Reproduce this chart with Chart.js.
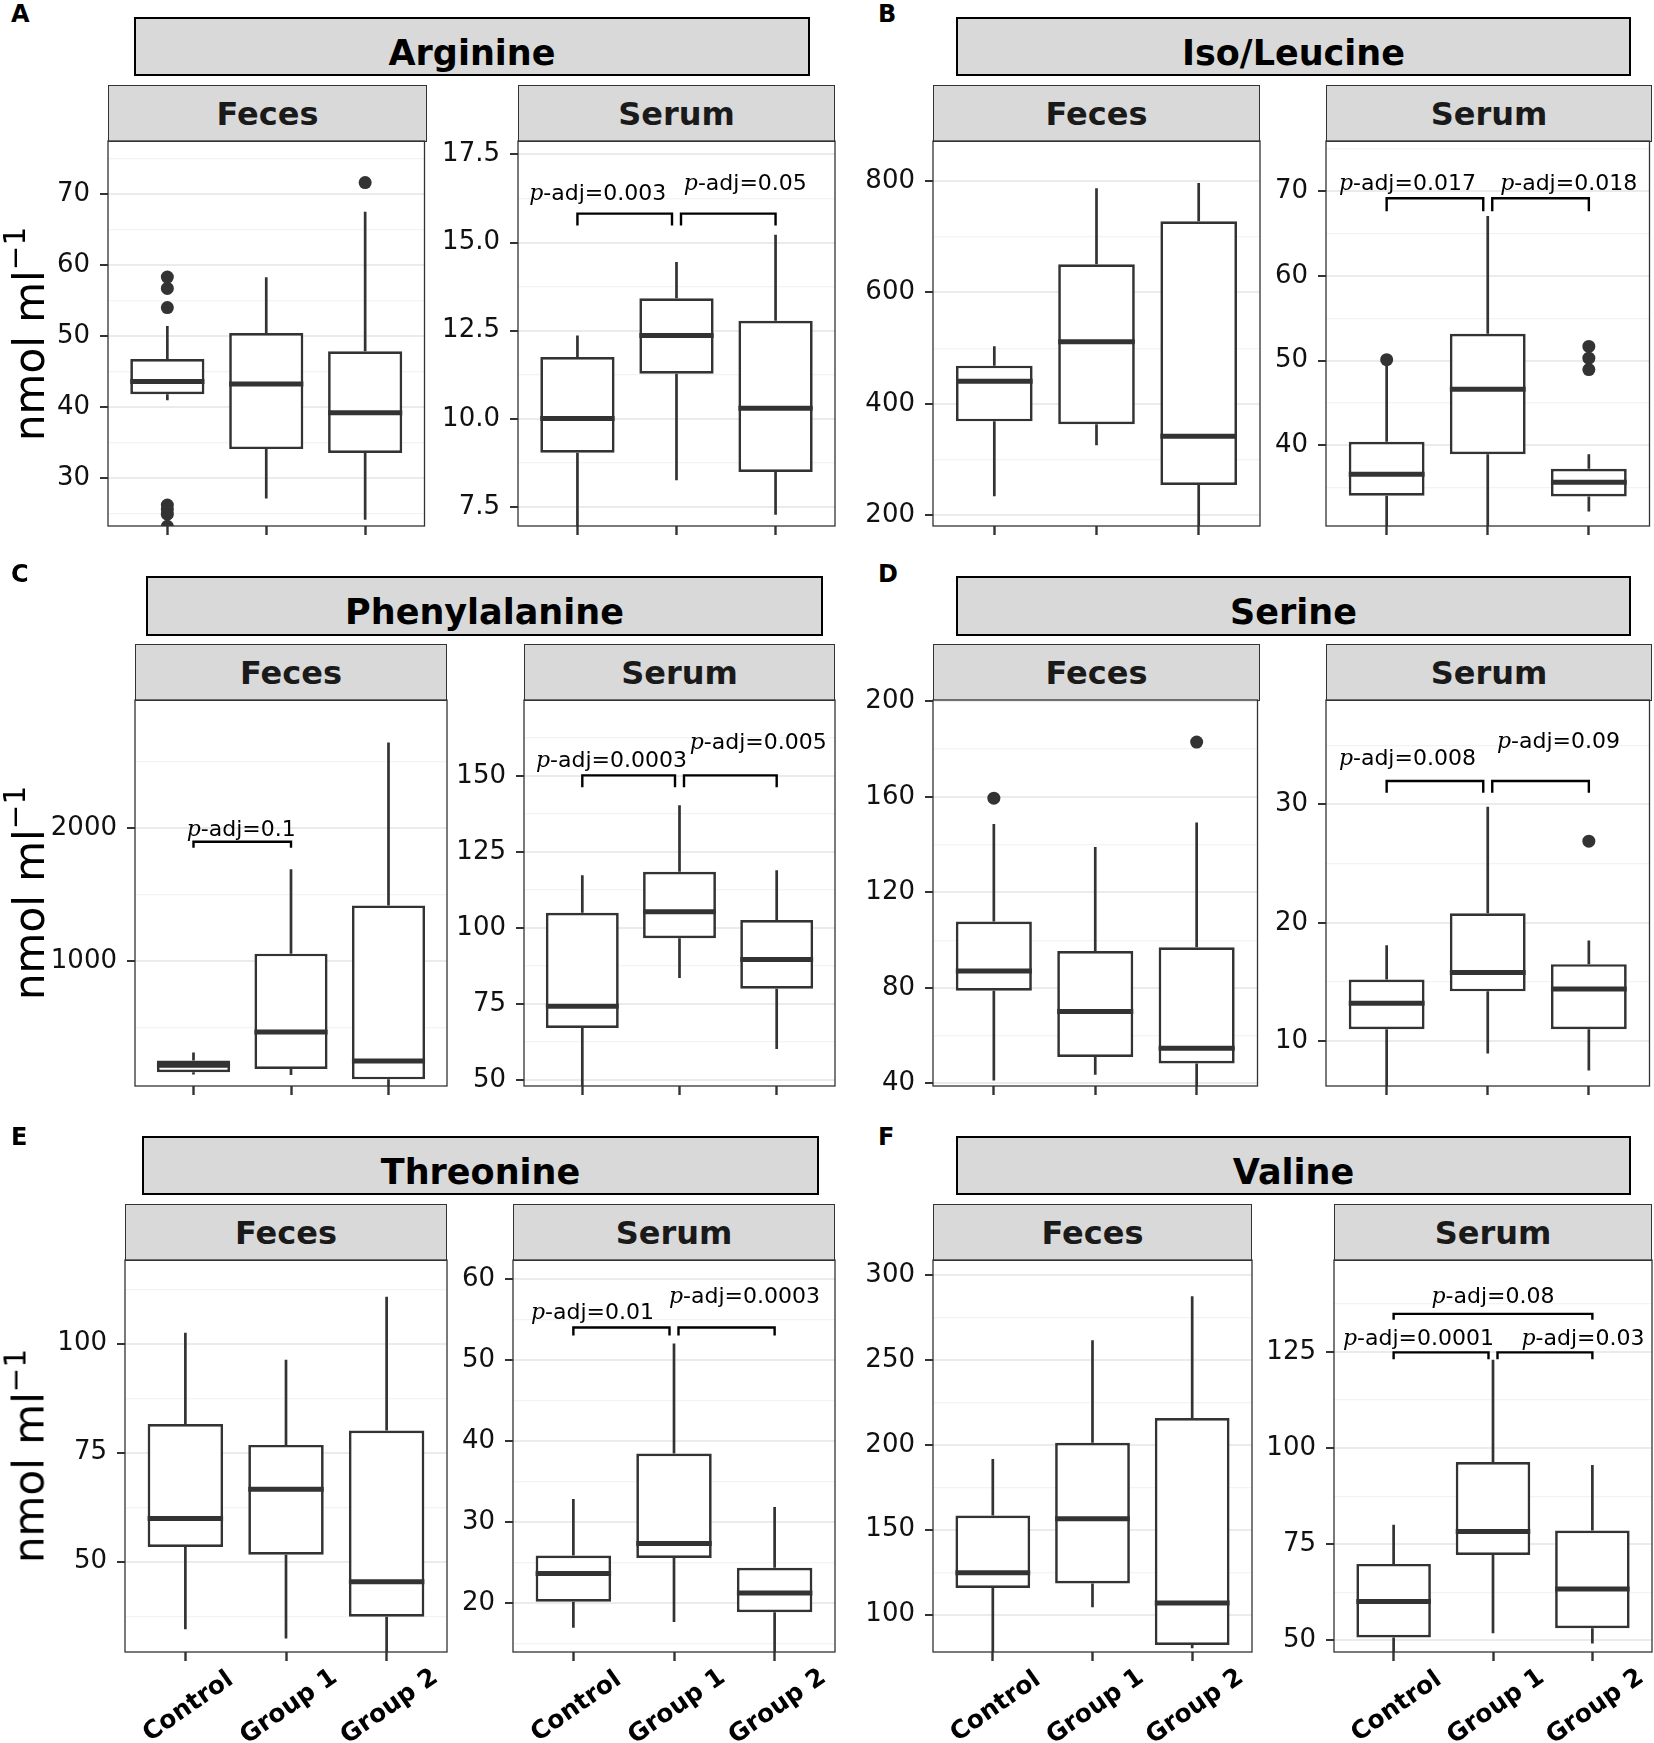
<!DOCTYPE html>
<html>
<head>
<meta charset="utf-8">
<script src="https://cdn.jsdelivr.net/npm/chart.js@4.4.1/dist/chart.umd.min.js"></script>
<style>
  body { margin: 0; background: #fff; }
  #page { position: relative; width: 1654px; height: 1743px; overflow: hidden; background: #fff;
          font-family: "DejaVu Sans", sans-serif; }
  #page canvas { position: absolute; }
  .big { position: absolute; box-sizing: border-box; background: #d9d9d9; border: 2.7px solid #000;
         display: flex; align-items: center; justify-content: center; padding-top: 12px;
         font-weight: bold; font-size: 35px; color: #000; }
  .strip { position: absolute; box-sizing: border-box; background: #d9d9d9; border: 1.3px solid #333;
           display: flex; align-items: center; justify-content: center;
           font-weight: bold; font-size: 32px; color: #1a1a1a; }
  .tag { position: absolute; font-weight: bold; font-size: 24px; line-height: 24px; color: #000; }
  .ytitle { position: absolute; font-size: 42px; white-space: nowrap; color: #000;
            transform: translate(-50%, -50%) rotate(-90deg); }
  .ytitle sup { font-size: 0.7em; vertical-align: 0.62em; line-height: 0; }
</style>
</head>
<body>
<div id="page"></div>
<script>
// groups on the x axis
const groups = ["Control", "Group 1", "Group 2"];

// box stats per group: [lower whisker, q1, median, q3, upper whisker]
// outliers: [group number, value]; sig: [from, to, bracket y, tip y, p value, label x, label y]

// Arginine
const argFecesBox = [[40.96, 41.8, 43.6, 46.75, 51.4], [27.13, 34.07, 43.23, 50.43, 58.28], [24.11, 33.52, 39.2, 47.86, 67.48]];
const argFecesOut = [[1, 58.3], [1, 56.7], [1, 54.0], [1, 26.2], [1, 25.6], [1, 24.9], [1, 23.2], [3, 71.6]];
const argFecesTicks = ["30", "40", "50", "60", "70"];
const argFecesLim = [23.24, 77.46];
const argFecesSig = [];

const argSerumBox = [[6.5, 9.04, 10.01, 11.75, 12.36], [8.26, 11.28, 12.36, 13.42, 14.45], [7.28, 8.49, 10.3, 12.78, 15.22]];
const argSerumOut = [];
const argSerumTicks = ["7.5", "10.0", "12.5", "15.0", "17.5"];
const argSerumLim = [6.96, 17.88];
const argSerumSig = [[1, 2, 15.82, 15.48, "0.003", 1.205, 16.36], [2, 3, 15.82, 15.48, "0.05", 2.695, 16.66]];

// Iso/Leucine
const leuFecesBox = [[234, 368.6, 440.4, 468.6, 503.2], [325.6, 363.5, 511.5, 650.6, 787.2], [150, 254.5, 341.7, 727.6, 796.2]];
const leuFecesOut = [];
const leuFecesTicks = ["200", "400", "600", "800"];
const leuFecesLim = [180.8, 871.8];
const leuFecesSig = [];

const leuSerumBox = [[29, 34.05, 36.58, 40.42, 49.7], [29, 38.94, 46.61, 53.15, 67.05], [32.2, 33.97, 35.65, 37.22, 38.94]];
const leuSerumOut = [[1, 50.1], [3, 51.67], [3, 50.28], [3, 48.93]];
const leuSerumTicks = ["40", "50", "60", "70"];
const leuSerumLim = [30.48, 75.9];
const leuSerumSig = [[1, 2, 69.15, 67.6, "0.017", 1.205, 70.84], [2, 3, 69.15, 67.6, "0.018", 2.8, 70.84]];

// Phenylalanine
const pheFecesBox = [[150, 168, 220, 256, 315], [147, 191, 470, 1057, 1690], [40, 114, 251, 1419, 2641]];
const pheFecesOut = [];
const pheFecesTicks = ["1000", "2000"];
const pheFecesLim = [64, 2960];
const pheFecesSig = [[1, 2, 1897, 1851, "0.1", 1.49, 1982]];

const pheSerumBox = [[45, 67.1, 74.2, 105, 117.3], [83.5, 96.6, 105.3, 118.5, 140.4], [60.2, 80, 89.6, 102.6, 119]];
const pheSerumOut = [];
const pheSerumTicks = ["50", "75", "100", "125", "150"];
const pheSerumLim = [48, 175];
const pheSerumSig = [[1, 2, 150.2, 146.3, "0.0003", 1.3, 154.8], [2, 3, 150.2, 146.3, "0.005", 2.81, 160.7]];

// Serine
const serFecesBox = [[41.2, 78.8, 87.1, 107.8, 148.6], [43.7, 51.1, 70.1, 95.4, 139], [35, 48.4, 54.7, 97, 149.2]];
const serFecesOut = [[1, 159.4], [3, 182.9]];
const serFecesTicks = ["40", "80", "120", "160", "200"];
const serFecesLim = [38.95, 200.5];
const serFecesSig = [];

const serSerumBox = [[5, 11.0, 13.2, 15.2, 18.1], [8.95, 14.2, 15.8, 20.8, 29.8], [7.5, 11.0, 14.4, 16.5, 18.5]];
const serSerumOut = [[3, 26.9]];
const serSerumTicks = ["10", "20", "30"];
const serSerumLim = [6.2, 38.83];
const serSerumSig = [[1, 2, 31.98, 31.0, "0.008", 1.205, 33.85], [2, 3, 31.98, 31.0, "0.09", 2.7, 35.24]];

// Threonine
const thrFecesBox = [[34.5, 53.4, 59.9, 81.6, 102.5], [32.4, 51.6, 66.6, 76.8, 96.3], [25, 37.4, 45.4, 80.1, 110.8]];
const thrFecesOut = [];
const thrFecesTicks = ["50", "75", "100"];
const thrFecesLim = [29.3, 119.2];
const thrFecesSig = [];

const thrSerumBox = [[17.0, 20.2, 23.7, 25.9, 32.9], [17.7, 25.6, 27.4, 38.5, 52.1], [12, 18.9, 21.3, 24.4, 31.9]];
const thrSerumOut = [];
const thrSerumTicks = ["20", "30", "40", "50", "60"];
const thrSerumLim = [14.0, 62.4];
const thrSerumSig = [[1, 2, 54.06, 53.08, "0.01", 1.19, 55.82], [2, 3, 54.06, 53.08, "0.0003", 2.7, 57.79]];

// Valine
const valFecesBox = [[70, 115.7, 124.6, 158.4, 191.7], [104.4, 118.3, 156.5, 201.2, 261.5], [80.2, 82.1, 106.8, 215.7, 287.4]];
const valFecesOut = [];
const valFecesTicks = ["100", "150", "200", "250", "300"];
const valFecesLim = [78, 308.8];
const valFecesSig = [];

const valSerumBox = [[44, 50.8, 60.1, 69.9, 80.1], [51.9, 72.2, 78.3, 96.4, 123], [49.2, 53.2, 63.4, 78.6, 95.6]];
const valSerumOut = [];
const valSerumTicks = ["50", "75", "100", "125"];
const valSerumLim = [47, 148.9];
const valSerumSig = [[1, 2, 124.9, 123.1, "0.0001", 1.25, 128.2], [2, 3, 124.9, 123.1, "0.03", 2.906, 128.2], [1, 3, 134.9, 133.4, "0.08", 2.0, 139.1]];

// panel titles, facets and placement on the page
const rows = [
  { T: 141, B: 526, bigY: [17, 76], tagBase: 23 },
  { T: 700, B: 1086, bigY: [576, 636], tagBase: 583 },
  { T: 1260, B: 1652, bigY: [1136, 1195], tagBase: 1146 }
];
const figures = [
  { tag: "A", title: "Arginine", row: 0, big: [134, 810], tagX: 11,
    feces: { box: argFecesBox, out: argFecesOut, ticks: argFecesTicks, lim: argFecesLim, sig: argFecesSig, L: 108, R: 427 },
    serum: { box: argSerumBox, out: argSerumOut, ticks: argSerumTicks, lim: argSerumLim, sig: argSerumSig, L: 518, R: 835 } },
  { tag: "B", title: "Iso/Leucine", row: 0, big: [956, 1631], tagX: 878,
    feces: { box: leuFecesBox, out: leuFecesOut, ticks: leuFecesTicks, lim: leuFecesLim, sig: leuFecesSig, L: 933, R: 1260 },
    serum: { box: leuSerumBox, out: leuSerumOut, ticks: leuSerumTicks, lim: leuSerumLim, sig: leuSerumSig, L: 1326, R: 1652 } },
  { tag: "C", title: "Phenylalanine", row: 1, big: [146, 823], tagX: 11,
    feces: { box: pheFecesBox, out: pheFecesOut, ticks: pheFecesTicks, lim: pheFecesLim, sig: pheFecesSig, L: 135, R: 447 },
    serum: { box: pheSerumBox, out: pheSerumOut, ticks: pheSerumTicks, lim: pheSerumLim, sig: pheSerumSig, L: 524, R: 835 } },
  { tag: "D", title: "Serine", row: 1, big: [956, 1631], tagX: 878,
    feces: { box: serFecesBox, out: serFecesOut, ticks: serFecesTicks, lim: serFecesLim, sig: serFecesSig, L: 933, R: 1260 },
    serum: { box: serSerumBox, out: serSerumOut, ticks: serSerumTicks, lim: serSerumLim, sig: serSerumSig, L: 1326, R: 1652 } },
  { tag: "E", title: "Threonine", row: 2, big: [142, 819], tagX: 11,
    feces: { box: thrFecesBox, out: thrFecesOut, ticks: thrFecesTicks, lim: thrFecesLim, sig: thrFecesSig, L: 125, R: 447 },
    serum: { box: thrSerumBox, out: thrSerumOut, ticks: thrSerumTicks, lim: thrSerumLim, sig: thrSerumSig, L: 513, R: 835 } },
  { tag: "F", title: "Valine", row: 2, big: [956, 1631], tagX: 878,
    feces: { box: valFecesBox, out: valFecesOut, ticks: valFecesTicks, lim: valFecesLim, sig: valFecesSig, L: 933, R: 1252 },
    serum: { box: valSerumBox, out: valSerumOut, ticks: valSerumTicks, lim: valSerumLim, sig: valSerumSig, L: 1334, R: 1652 } }
];

const page = document.getElementById("page");
const FONT = '"DejaVu Sans", sans-serif';
const LINE = "#333333";
Chart.defaults.font.family = FONT;

function addDiv(cls, html, css) {
  const d = document.createElement("div");
  d.className = cls;
  d.innerHTML = html;
  Object.assign(d.style, css);
  page.appendChild(d);
  return d;
}

// draws whiskers, medians, significance brackets, panel border and x labels
function boxPlugin(p) {
  return {
    id: "boxplot",
    beforeDatasetsDraw(chart) {
      const { ctx, chartArea: a, scales: { x, y } } = chart;
      ctx.save();
      ctx.beginPath();
      ctx.rect(a.left, a.top, a.width, a.height);
      ctx.clip();
      ctx.strokeStyle = LINE;
      ctx.lineWidth = 2.7;
      p.box.forEach((s, i) => {
        const px = x.getPixelForValue(i + 1);
        ctx.beginPath();
        ctx.moveTo(px, y.getPixelForValue(s[0]));
        ctx.lineTo(px, y.getPixelForValue(s[1]));
        ctx.moveTo(px, y.getPixelForValue(s[3]));
        ctx.lineTo(px, y.getPixelForValue(s[4]));
        ctx.stroke();
      });
      ctx.restore();
    },
    afterDatasetsDraw(chart) {
      const { ctx, chartArea: a, scales: { x, y } } = chart;
      const bars = chart.getDatasetMeta(0).data;
      ctx.save();
      // medians
      ctx.strokeStyle = LINE;
      ctx.lineWidth = 5;
      p.box.forEach((s, i) => {
        const el = bars[i];
        const py = y.getPixelForValue(s[2]);
        ctx.beginPath();
        ctx.moveTo(el.x - el.width / 2, py);
        ctx.lineTo(el.x + el.width / 2, py);
        ctx.stroke();
      });
      // significance brackets
      const gap = 4.5;
      const shared = (s, g) => p.sig.some(o => o !== s && o[2] === s[2] && (o[0] === g || o[1] === g));
      p.sig.forEach(s => {
        const x0 = x.getPixelForValue(s[0]) + (shared(s, s[0]) ? gap : 0);
        const x1 = x.getPixelForValue(s[1]) - (shared(s, s[1]) ? gap : 0);
        const yl = y.getPixelForValue(s[2]);
        const yt = y.getPixelForValue(s[3]);
        ctx.strokeStyle = "#000";
        ctx.lineWidth = 2.4;
        ctx.beginPath();
        ctx.moveTo(x0, yt);
        ctx.lineTo(x0, yl);
        ctx.lineTo(x1, yl);
        ctx.lineTo(x1, yt);
        ctx.stroke();
        const rest = "-adj=" + s[4];
        const fp = 'italic 22px "DejaVu Serif", serif';
        const fr = "22px " + FONT;
        ctx.font = fp;
        const wp = ctx.measureText("p").width;
        ctx.font = fr;
        const wr = ctx.measureText(rest).width;
        const cx = x.getPixelForValue(s[5]);
        const cy = y.getPixelForValue(s[6]);
        const start = cx - (wp + wr) / 2;
        ctx.fillStyle = "#000";
        ctx.textBaseline = "middle";
        ctx.textAlign = "left";
        ctx.font = fp;
        ctx.fillText("p", start, cy);
        ctx.font = fr;
        ctx.fillText(rest, start + wp, cy);
      });
      // panel border
      ctx.strokeStyle = LINE;
      ctx.lineWidth = 1.3;
      ctx.strokeRect(a.left, a.top, a.width, a.height);
      ctx.restore();
    },
    afterDraw(chart) {
      if (!p.xlab) return;
      const { ctx, chartArea: a, scales: { x } } = chart;
      ctx.save();
      ctx.font = "bold 25px " + FONT;
      ctx.fillStyle = "#000";
      ctx.textAlign = "center";
      ctx.textBaseline = "middle";
      groups.forEach((g, i) => {
        ctx.save();
        ctx.translate(x.getPixelForValue(i + 1) + 3, a.bottom + 55);
        ctx.rotate(-35 * Math.PI / 180);
        ctx.fillText(g, 0, 0);
        ctx.restore();
      });
      ctx.restore();
    }
  };
}

function buildPanel(p) {
  const padTop = 20, padRight = 4, yW = 96;
  const xH = p.xlab ? 1743 - p.B : 24;
  const cv = document.createElement("canvas");
  cv.width = p.R - p.L + yW + padRight;
  cv.height = p.B - p.T + padTop + xH;
  cv.style.left = (p.L - yW) + "px";
  cv.style.top = (p.T - padTop) + "px";
  page.appendChild(cv);

  const majors = p.ticks.map(Number);
  const step = majors[1] - majors[0];
  let m = majors[0] - step / 2;
  while (m - step >= p.lim[0]) m -= step;
  const minors = [];
  for (; m <= p.lim[1]; m += step) if (m >= p.lim[0]) minors.push(m);
  const all = majors.concat(minors).sort((a, b) => a - b);
  const isMajor = v => majors.some(t => Math.abs(t - v) < 1e-9);
  const labelOf = v => p.ticks[majors.findIndex(t => Math.abs(t - v) < 1e-9)];

  new Chart(cv, {
    type: "bar",
    data: {
      datasets: [
        {
          type: "bar",
          data: p.box.map((s, i) => ({ x: i + 1, y: [s[1], s[3]] })),
          backgroundColor: "#ffffff",
          borderColor: LINE,
          borderWidth: 2.7,
          borderSkipped: false,
          barPercentage: 0.75,
          categoryPercentage: 1
        },
        {
          type: "scatter",
          data: p.out.map(o => ({ x: o[0], y: o[1] })),
          pointRadius: 6.5,
          pointBackgroundColor: LINE,
          pointBorderWidth: 0,
          clip: 0
        }
      ]
    },
    options: {
      responsive: false,
      animation: false,
      devicePixelRatio: 1,
      events: [],
      layout: { padding: { top: padTop, right: padRight, left: 0, bottom: 0 } },
      plugins: { legend: { display: false }, tooltip: { enabled: false } },
      scales: {
        x: {
          type: "linear",
          min: 0.4,
          max: 3.6,
          offset: false,
          afterBuildTicks: s => { s.ticks = groups.map((g, i) => ({ value: i + 1 })); },
          afterFit: s => { s.height = xH; s.paddingLeft = 0; s.paddingRight = 0; },
          ticks: { display: false },
          grid: { drawOnChartArea: false, drawTicks: true, tickLength: 9, tickColor: LINE, tickWidth: 2.4, offset: false },
          border: { display: false }
        },
        y: {
          type: "linear",
          min: p.lim[0],
          max: p.lim[1],
          beginAtZero: false,
          afterBuildTicks: s => { s.ticks = all.map(v => ({ value: v })); },
          afterFit: s => { s.width = yW; s.paddingTop = 0; s.paddingBottom = 0; },
          ticks: {
            autoSkip: false,
            padding: 10,
            color: "#111",
            font: { family: FONT, size: 26 },
            callback: v => (isMajor(v) ? labelOf(v) : "")
          },
          grid: {
            color: c => (isMajor(c.tick.value) ? "#ebebeb" : "#f3f3f3"),
            lineWidth: c => (isMajor(c.tick.value) ? 2 : 1.2),
            tickColor: c => (isMajor(c.tick.value) ? LINE : "rgba(0,0,0,0)"),
            tickLength: 8,
            tickWidth: 2
          },
          border: { display: false }
        }
      }
    },
    plugins: [boxPlugin(p)]
  });
}

figures.forEach(f => {
  const r = rows[f.row];
  const bottomRow = f.row === rows.length - 1;
  addDiv("big", f.title, {
    left: f.big[0] + "px", top: r.bigY[0] + "px",
    width: (f.big[1] - f.big[0]) + "px", height: (r.bigY[1] - r.bigY[0]) + "px"
  });
  addDiv("tag", f.tag, { left: f.tagX + "px", top: (r.tagBase - 21) + "px" });
  [["Feces", f.feces], ["Serum", f.serum]].forEach(([name, p]) => {
    addDiv("strip", name, {
      left: p.L + "px", top: (r.T - 56) + "px",
      width: (p.R - p.L) + "px", height: "57px"
    });
    buildPanel(Object.assign({}, p, { T: r.T, B: r.B, xlab: bottomRow }));
  });
  if (f.tagX < 100) {
    addDiv("ytitle", "nmol ml<sup>\u22121</sup>", { left: "29px", top: ((r.T + r.B) / 2) + "px" });
  }
});
</script>
</body>
</html>
